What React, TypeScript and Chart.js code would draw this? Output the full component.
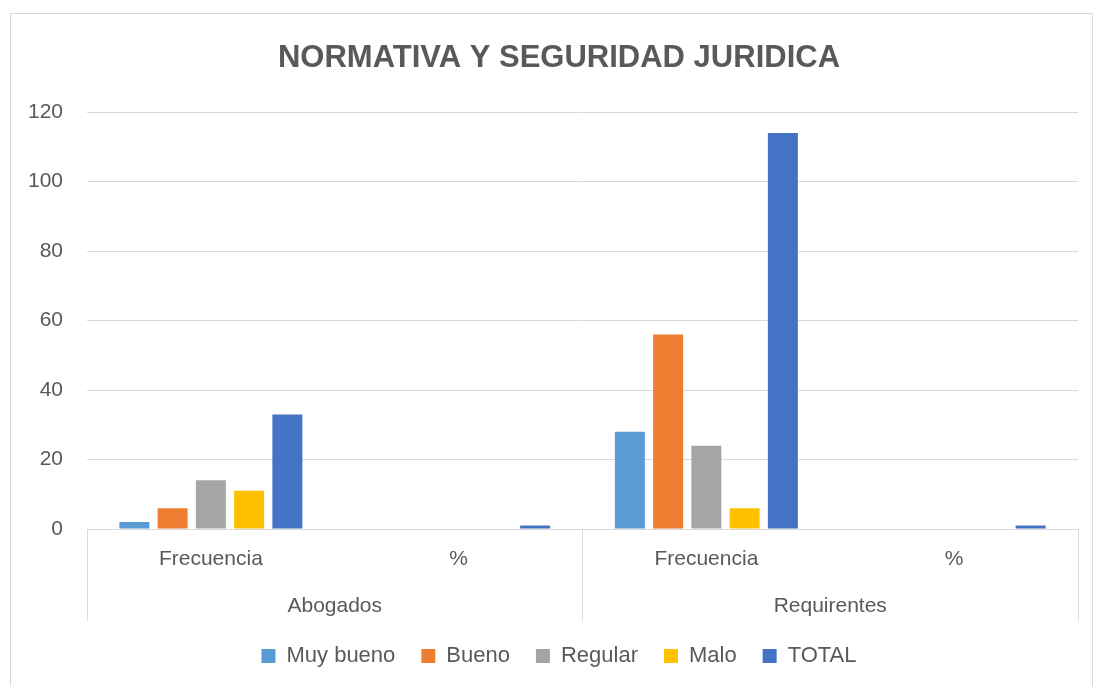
import React, { useEffect, useRef } from 'react';
import { Chart, registerables } from 'chart.js';

Chart.register(...registerables);

const chartTitle = 'NORMATIVA Y SEGURIDAD JURIDICA';
const groups = ['Abogados', 'Requirentes'];
const categories = ['Frecuencia', '%', 'Frecuencia', '%'];
const seriesNames = ['Muy bueno', 'Bueno', 'Regular', 'Malo', 'TOTAL'];
const muyBueno = [2, 0, 28, 0];
const bueno = [6, 0, 56, 0];
const regular = [14, 0, 24, 0];
const malo = [11, 0, 6, 0];
const total = [33, 1, 114, 1];
const seriesValues = [muyBueno, bueno, regular, malo, total];
const seriesColors = ['#5B9BD5', '#ED7D31', '#A5A5A5', '#FFC000', '#4472C4'];
const yMin = 0;
const yMax = 120;
const yStep = 20;

const TEXT = '#595959';
const GRID = '#D9D9D9';
const FONT = "'Liberation Sans', Arial, sans-serif";

// shifts the full-width title and legend boxes so they centre like the original
const centerShift = {
  id: 'centerShift',
  afterLayout(chart: any) {
    const shift = 20;
    if (chart.titleBlock) chart.titleBlock.left += shift;
    if (chart.legend) chart.legend.left += shift;
  },
};

export default function App() {
  const ref = useRef<HTMLCanvasElement | null>(null);

  useEffect(() => {
    if (!ref.current) return;
    Chart.defaults.font.family = FONT;
    const chart = new Chart(ref.current, {
      type: 'bar',
      data: {
        labels: categories,
        datasets: seriesNames.map((name, i) => ({
          label: name,
          data: seriesValues[i],
          backgroundColor: seriesColors[i],
          borderWidth: 0,
          barPercentage: 0.784,
          categoryPercentage: 0.772,
        })),
      },
      plugins: [centerShift],
      options: {
        animation: false,
        responsive: false,
        devicePixelRatio: 1,
        layout: { padding: { left: 20, right: 16, top: 13, bottom: 9 } },
        plugins: {
          title: {
            display: true,
            text: chartTitle,
            color: TEXT,
            font: { family: FONT, size: 31, weight: 'bold' },
            padding: { top: 27, bottom: 35 },
          },
          legend: {
            position: 'bottom',
            labels: {
              boxWidth: 14,
              boxHeight: 14,
              padding: 26,
              color: TEXT,
              font: { family: FONT, size: 22 },
            },
          },
          tooltip: { enabled: false },
        },
        scales: {
          y: {
            min: yMin,
            max: yMax,
            ticks: {
              stepSize: yStep,
              color: TEXT,
              font: { family: FONT, size: 21 },
              padding: 24,
            },
            grid: { color: GRID, drawTicks: false, lineWidth: 1 },
            border: { display: false },
            afterFit: (scale: any) => {
              scale.width = 67;
            },
          },
          x: {
            type: 'category',
            weight: 0,
            ticks: {
              color: TEXT,
              font: { family: FONT, size: 21 },
              padding: -74,
              maxRotation: 0,
              autoSkip: false,
            },
            grid: {
              display: true,
              offset: true,
              drawOnChartArea: false,
              drawTicks: true,
              tickLength: 92,
              lineWidth: 1,
              color: (ctx: any) =>
                ctx.index === undefined || ctx.index % 2 === 0 ? GRID : 'rgba(0,0,0,0)',
            },
            border: { display: true, color: GRID },
            afterFit: (scale: any) => {
              scale.height = 43;
            },
          },
          x2: {
            type: 'category',
            position: 'bottom',
            weight: 1,
            labels: groups,
            offset: true,
            ticks: {
              color: TEXT,
              font: { family: FONT, size: 21 },
              padding: 22,
              maxRotation: 0,
              autoSkip: false,
            },
            grid: { display: false, drawTicks: false },
            border: { display: false },
            afterFit: (scale: any) => {
              scale.height = 47;
            },
          },
        },
      } as any,
    });
    return () => chart.destroy();
  }, []);

  return (
    <div
      style={{
        position: 'absolute',
        left: 0,
        top: 0,
        width: 1094,
        height: 686,
        background: '#fff',
        overflow: 'hidden',
      }}
    >
      <div
        style={{
          position: 'absolute',
          left: 10,
          top: 13,
          width: 1083,
          height: 720,
          border: `1px solid ${GRID}`,
          boxSizing: 'border-box',
        }}
      />
      <canvas
        ref={ref}
        width={1094}
        height={686}
        style={{ position: 'absolute', left: 0, top: 0, width: 1094, height: 686 }}
      />
    </div>
  );
}
